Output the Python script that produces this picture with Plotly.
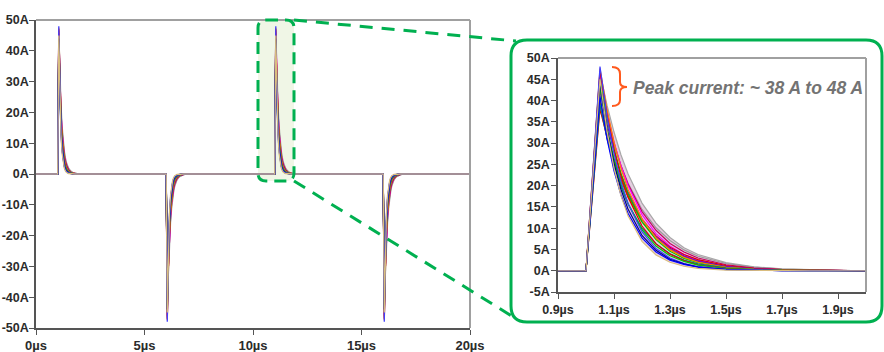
import plotly.graph_objects as go

# ---------------- data ----------------
# time after pulse start (µs) for the sampled waveform of each Monte Carlo run
t_rel = [0, 0.05, 0.075, 0.10, 0.125, 0.15, 0.20, 0.25, 0.30, 0.35, 0.40, 0.50, 0.60, 0.70, 0.80, 0.90]

# current (A) of each run at t_rel
run_01 = [0, 48.0, 36.3, 27.6, 20.9, 15.8, 9.1, 5.2, 3.0, 1.7, 1.0, 0.32, 0.11, 0.03, 0.01, 0.0]
run_02 = [0, 47.0, 36.6, 28.5, 22.2, 17.3, 10.5, 6.3, 3.9, 2.4, 1.4, 0.52, 0.19, 0.07, 0.03, 0.01]
run_03 = [0, 46.0, 37.4, 30.3, 24.6, 20.0, 13.2, 8.7, 5.8, 3.8, 2.5, 1.1, 0.46, 0.20, 0.09, 0.04]
run_04 = [0, 45.0, 32.9, 24.1, 17.6, 12.9, 6.9, 3.7, 2.0, 1.06, 0.57, 0.16, 0.05, 0.01, 0.0, 0.0]
run_05 = [0, 45.0, 35.9, 28.6, 22.8, 18.1, 11.5, 7.3, 4.6, 2.9, 1.9, 0.77, 0.30, 0.12, 0.05, 0.02]
run_06 = [0, 44.0, 36.3, 30.0, 24.7, 20.4, 13.9, 9.5, 6.4, 4.4, 3.0, 1.4, 0.64, 0.29, 0.14, 0.06]
run_07 = [0, 43.0, 33.5, 26.1, 20.3, 15.8, 9.6, 5.8, 3.5, 2.2, 1.3, 0.47, 0.18, 0.06, 0.03, 0.01]
run_08 = [0, 42.0, 35.2, 29.4, 24.6, 20.6, 14.4, 10.1, 7.1, 4.9, 3.4, 1.7, 0.84, 0.40, 0.20, 0.10]
run_09 = [0, 41.0, 31.0, 23.5, 17.8, 13.5, 7.7, 4.4, 2.5, 1.5, 0.82, 0.27, 0.09, 0.03, 0.01, 0.0]
run_10 = [0, 40.0, 32.5, 26.4, 21.4, 17.4, 11.5, 7.6, 5.0, 3.3, 2.2, 0.96, 0.40, 0.18, 0.08, 0.03]
run_11 = [0, 39.0, 31.1, 24.8, 19.7, 15.7, 10.0, 6.3, 4.0, 2.5, 1.6, 0.66, 0.26, 0.11, 0.04, 0.02]
run_12 = [0, 38.0, 31.4, 25.9, 21.4, 17.6, 12.0, 8.2, 5.5, 3.8, 2.6, 1.2, 0.55, 0.25, 0.12, 0.05]
run_13 = [0, 46.5, 38.9, 32.6, 27.2, 22.8, 15.9, 11.2, 7.8, 5.4, 3.8, 1.9, 0.93, 0.45, 0.22, 0.11]
run_14 = [0, 44.0, 33.3, 25.3, 19.1, 14.5, 8.3, 4.8, 2.7, 1.6, 0.88, 0.29, 0.10, 0.03, 0.01, 0.0]
run_15 = [0, 42.5, 34.5, 28.0, 22.7, 18.5, 12.2, 8.0, 5.3, 3.5, 2.3, 1.0, 0.43, 0.19, 0.08, 0.03]
run_16 = [0, 47.5, 37.9, 30.2, 24.0, 19.1, 12.2, 7.7, 4.9, 3.1, 2.0, 0.81, 0.32, 0.13, 0.05, 0.02]

# drawing order: slow-decay (grey) runs first, fast-decay (blue) runs ... tan last on top
runs = [run_13, run_08, run_06, run_03, run_12, run_10, run_15, run_05,
        run_16, run_11, run_02, run_07, run_01, run_14, run_09, run_04]

run_colors = ['#a8a8a8', '#9a9a9a', '#c00060', '#ff00ff', '#e00000', '#808000',
              '#8000c0', '#00c800', '#ff8000', '#008080', '#e00000', '#00c800',
              '#4040ff', '#000080', '#0000ff', '#d9bd7e']

# pulse start times (µs) and polarity in the 0–20 µs window
pulse_starts = [1.0, 6.0, 11.0, 16.0]
pulse_sign = [1, -1, 1, -1]
main_t_end = 20.0

# inset window
inset_pulse_start = 1.0
inset_t0, inset_t1 = 0.9, 2.0

main_y_ticks = [-50, -40, -30, -20, -10, 0, 10, 20, 30, 40, 50]
main_x_ticks = [0, 5, 10, 15, 20]
inset_y_ticks = [-5, 0, 5, 10, 15, 20, 25, 30, 35, 40, 45, 50]
inset_x_ticks = [0.9, 1.1, 1.3, 1.5, 1.7, 1.9]

annotation_text = "Peak current: ~ 38 A to 48 A"

# ---------------- layout helpers ----------------
W, H = 884, 352
def px(x):
    return x / W
def py(y):
    return 1 - y / H

def rrect(x0, y0, x1, y1, r):
    p = [
        f"M {px(x0 + r)},{py(y0)}", f"L {px(x1 - r)},{py(y0)}",
        f"Q {px(x1)},{py(y0)} {px(x1)},{py(y0 + r)}", f"L {px(x1)},{py(y1 - r)}",
        f"Q {px(x1)},{py(y1)} {px(x1 - r)},{py(y1)}", f"L {px(x0 + r)},{py(y1)}",
        f"Q {px(x0)},{py(y1)} {px(x0)},{py(y1 - r)}", f"L {px(x0)},{py(y0 + r)}",
        f"Q {px(x0)},{py(y0)} {px(x0 + r)},{py(y0)}", "Z"]
    return " ".join(p)

FONT = "Liberation Sans, Arial, sans-serif"
GREEN = '#00b050'

fig = go.Figure()

# band envelope in the inset (from the runs' own values) to mimic the dense bundle of curves
inset_x = [inset_t0] + [inset_pulse_start + tr for tr in t_rel] + [inset_t1]
env_lo = [0.0] + [min(r[i] for r in runs) for i in range(len(t_rel))] + [0.0]
env_hi = [0.0] + [max(r[i] for r in runs) for i in range(len(t_rel))] + [0.0]
fig.add_trace(go.Scatter(x=inset_x, y=env_lo, mode='lines', xaxis='x2', yaxis='y2',
                         line=dict(width=0), hoverinfo='skip'))
fig.add_trace(go.Scatter(x=inset_x, y=env_hi, mode='lines', xaxis='x2', yaxis='y2',
                         line=dict(width=0), fill='tonexty',
                         fillcolor='rgba(150,60,130,0.25)', hoverinfo='skip'))

# main traces
for run, col in zip(runs, run_colors):
    xs, ys = [0.0], [0.0]
    for ts, sg in zip(pulse_starts, pulse_sign):
        for tr, v in zip(t_rel, run):
            xs.append(ts + tr)
            ys.append(sg * v)
    xs.append(main_t_end)
    ys.append(0.0)
    fig.add_trace(go.Scatter(x=xs, y=ys, mode='lines', xaxis='x', yaxis='y',
                             line=dict(color=col, width=1.3), hoverinfo='skip'))

# inset traces
for run, col in zip(runs, run_colors):
    ys = [0.0] + list(run) + [0.0]
    fig.add_trace(go.Scatter(x=inset_x, y=ys, mode='lines', xaxis='x2', yaxis='y2',
                             line=dict(color=col, width=1.2), hoverinfo='skip'))

axis_common = dict(showgrid=False, zeroline=False, showline=True, linecolor='#555555',
                   linewidth=1.5, ticks='outside', ticklen=5, tickwidth=1, tickcolor='#555555',
                   fixedrange=True, automargin=False)

shapes = [
    # highlight box fill
    dict(type='path', xref='paper', yref='paper', path=rrect(258, 20, 294, 181, 8),
         fillcolor='#f0f6e6', line=dict(width=0), layer='below'),
    # inset frame (white fill)
    dict(type='path', xref='paper', yref='paper', path=rrect(511, 40, 882, 322, 16),
         fillcolor='white', line=dict(color=GREEN, width=3), layer='below'),
    # main frame top/right
    dict(type='line', xref='paper', yref='paper', x0=px(36), x1=px(470), y0=py(20), y1=py(20),
         line=dict(color='#a0a0a0', width=2)),
    dict(type='line', xref='paper', yref='paper', x0=px(470), x1=px(470), y0=py(20), y1=py(328),
         line=dict(color='#a0a0a0', width=2)),
    # inset frame top/right
    dict(type='line', xref='paper', yref='paper', x0=px(558), x1=px(866), y0=py(58), y1=py(58),
         line=dict(color='#a0a0a0', width=2)),
    dict(type='line', xref='paper', yref='paper', x0=px(866), x1=px(866), y0=py(58), y1=py(292),
         line=dict(color='#a0a0a0', width=2)),
    # highlight dashed border
    dict(type='path', xref='paper', yref='paper', path=rrect(258, 20, 294, 181, 8),
         line=dict(color=GREEN, width=3, dash='12px,7px'), layer='above'),
    # connectors
    dict(type='line', xref='paper', yref='paper', x0=px(294), y0=py(20), x1=px(516), y1=py(41),
         line=dict(color=GREEN, width=3, dash='13px,9px')),
    dict(type='line', xref='paper', yref='paper', x0=px(294), y0=py(181), x1=px(515), y1=py(318),
         line=dict(color=GREEN, width=3, dash='13px,9px')),
    # orange brace
    dict(type='path', xref='paper', yref='paper',
         path=(f"M {px(612)},{py(67)} Q {px(620)},{py(67)} {px(620)},{py(74)} L {px(620)},{py(82)} "
               f"Q {px(620)},{py(87)} {px(627)},{py(87)} Q {px(620)},{py(87)} {px(620)},{py(92)} "
               f"L {px(620)},{py(100)} Q {px(620)},{py(106)} {px(612)},{py(106)}"),
         line=dict(color='#ff5a1e', width=2)),
]

fig.update_layout(
    width=W, height=H, margin=dict(l=0, r=0, t=0, b=0, pad=0, autoexpand=False),
    paper_bgcolor='white', plot_bgcolor='rgba(0,0,0,0)', showlegend=False,
    font=dict(family=FONT, color='#2b2b2b'),
    xaxis=dict(domain=[px(36), px(470)], range=[0, 20], anchor='y',
               tickvals=main_x_ticks, ticktext=[f"{v}µs" for v in main_x_ticks],
               tickfont=dict(size=13, family=FONT, weight='bold'), **axis_common),
    yaxis=dict(domain=[py(328), py(20)], range=[-50, 50], anchor='x',
               tickvals=main_y_ticks, ticktext=[f"{v}A" for v in main_y_ticks],
               tickfont=dict(size=12.5, family=FONT, weight='bold'), ticklabelstandoff=-2,
               **axis_common),
    xaxis2=dict(domain=[px(558), px(866)], range=[inset_t0, inset_t1], anchor='y2',
                tickvals=inset_x_ticks, ticktext=[f"{v}µs" for v in inset_x_ticks],
                tickfont=dict(size=12.5, family=FONT, weight='bold'), **axis_common),
    yaxis2=dict(domain=[py(292), py(58)], range=[-5, 50], anchor='x2',
                tickvals=inset_y_ticks, ticktext=[f"{v}A" for v in inset_y_ticks],
                tickfont=dict(size=12.5, family=FONT, weight='bold'), ticklabelstandoff=-1,
                **axis_common),
    shapes=shapes,
    annotations=[dict(text=annotation_text, xref='paper', yref='paper', x=px(631), y=py(88),
                      xanchor='left', yanchor='middle', showarrow=False,
                      font=dict(size=17.5, family=FONT, color='#737373', weight='bold', style='italic'))],
)

fig.write_html("out.html")
